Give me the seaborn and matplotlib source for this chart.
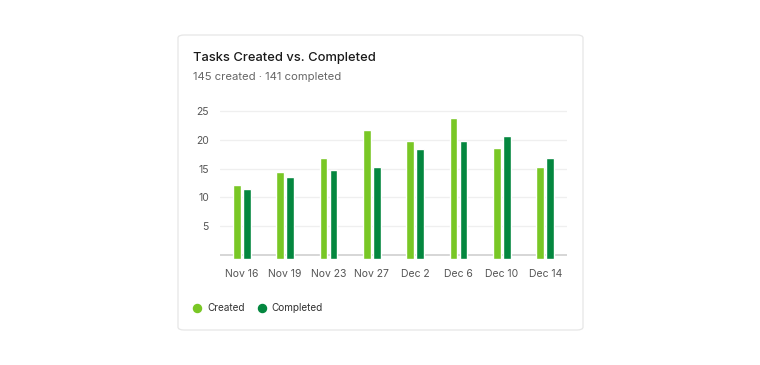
import matplotlib
matplotlib.use("Agg")
import matplotlib.pyplot as plt
import seaborn as sns
import pandas as pd
from matplotlib.patches import FancyBboxPatch
from matplotlib.lines import Line2D

# data
dates = ["Nov 16", "Nov 19", "Nov 23", "Nov 27", "Dec 2", "Dec 6", "Dec 10", "Dec 14"]
created = [12.1, 14.4, 16.8, 21.7, 19.7, 23.8, 18.6, 15.3]
completed = [11.4, 13.5, 14.7, 15.3, 18.4, 19.7, 20.6, 16.8]
series = ["Created", "Completed"]
colors = ["#79c725", "#04873f"]
yticks = [5, 10, 15, 20, 25]

df = pd.DataFrame({
    "date": dates * 2,
    "count": created + completed,
    "series": ["Created"] * len(dates) + ["Completed"] * len(dates),
})

sns.set_style("white")
plt.rcParams["font.family"] = ["Inter", "DejaVu Sans"]

W, H = 760, 365
fig = plt.figure(figsize=(W / 100, H / 100), dpi=100)
fig.patch.set_facecolor("white")

# card behind everything
card = FancyBboxPatch((178 / W, 1 - 330 / H), 405 / W, 295 / H,
                      boxstyle="round,pad=0,rounding_size=0.008",
                      transform=fig.transFigure, facecolor="white",
                      edgecolor="#e6e6e6", linewidth=0.9, zorder=-5)
fig.patches.append(card)

fig.text(193 / W, 1 - 58 / H, "Tasks Created vs. Completed", fontsize=9.3,
         color="#1a1a1a", va="center", ha="left", fontweight="medium")
fig.text(193 / W, 1 - 77 / H, "145 created · 141 completed", fontsize=8.1,
         color="#666666", va="center", ha="left")

ax = fig.add_axes([220 / W, 0.291, 347 / W, 0.412])
ax.set_facecolor("none")
sns.barplot(data=df, x="date", y="count", hue="series", hue_order=series,
            palette=colors, width=0.46, gap=0.22, legend=False, ax=ax,
            saturation=1, errorbar=None, zorder=2)

# bars poke a little below the baseline in the original
below = 0.6
for p in ax.patches:
    p.set_y(-below)
    p.set_height(p.get_height() + below)

ax.set_ylim(-below, 25.4)
ax.set_xlim(-0.5, len(dates) - 0.5)
ax.set_yticks(yticks)
for y in yticks:
    ax.axhline(y, color="#efefef", linewidth=0.9, zorder=0)
ax.axhline(0, color="#cfcfcf", linewidth=1.2, zorder=1)
for s in ax.spines.values():
    s.set_visible(False)
ax.tick_params(axis="both", length=0, labelsize=7.5, labelcolor="#555555")
ax.tick_params(axis="y", pad=8)
ax.tick_params(axis="x", pad=7)
ax.set_xlabel("")
ax.set_ylabel("")

handles = [Line2D([0], [0], marker="o", linestyle="none", markersize=5.8,
                  markerfacecolor=c, markeredgecolor=c) for c in colors]
fig.legend(handles, series, loc="center left",
           bbox_to_anchor=(193 / W, 1 - 308 / H), frameon=False, ncol=2,
           fontsize=7.2, handlelength=0.8, handletextpad=0.6,
           columnspacing=1.3, labelcolor="#333333",
           borderaxespad=0, borderpad=0)

fig.savefig("out.png", dpi=100, facecolor="white")
